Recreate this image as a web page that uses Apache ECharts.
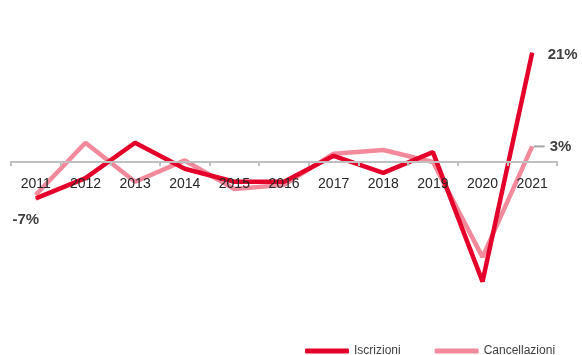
<!DOCTYPE html>
<html>
<head>
<meta charset="utf-8">
<script src="https://cdn.jsdelivr.net/npm/echarts@6/dist/echarts.min.js"></script>
<style>
  html, body { margin: 0; padding: 0; background: #fff; }
  #chart { width: 582px; height: 355px; }
</style>
</head>
<body>
<div id="chart"></div>
<script>
// Annual percentage change, 2011-2021
const years = ['2011', '2012', '2013', '2014', '2015', '2016', '2017', '2018', '2019', '2020', '2021'];
const iscrizioni = [-7, -3.1, 3.7, -1.3, -3.8, -3.8, 1.2, -2.1, 1.9, -23, 21];
const cancellazioni = [-6.3, 3.7, -3.8, 0.3, -5.2, -4.4, 1.6, 2.3, 0, -18.3, 3];

const RED = '#E4002B';
const PINK = '#F28A9B';
const TEXT = '#404040';

// Only the first/last points of a series carry a value label
function withLabels(values, labels) {
  return values.map((v, i) => labels[i] ? { value: v, label: labels[i] } : v);
}

const labelBold = { fontFamily: 'Liberation Sans', fontSize: 15, fontWeight: 'bold', color: TEXT };

const iscrizioniData = withLabels(iscrizioni, {
  0: Object.assign({ show: true, position: 'bottom', distance: 13, offset: [-10, 0],
    formatter: p => p.value + '%' }, labelBold),
  10: Object.assign({ show: true, position: 'right', distance: 15, offset: [0, 2],
    formatter: p => p.value + '%' }, labelBold)
});

const cancellazioniData = withLabels(cancellazioni, {
  10: {
    show: true, position: 'right', distance: 1,
    formatter: p => '{ln|}{t|' + p.value + '%}',
    rich: {
      ln: { width: 11, height: 2, backgroundColor: '#A6A6A6' },
      t: Object.assign({ padding: [0, 0, 0, 5] }, labelBold)
    }
  }
});

const chart = echarts.init(document.getElementById('chart'), null, { renderer: 'canvas' });
chart.setOption({
  animation: false,
  grid: { left: 11, right: 25, top: 32, bottom: 37 },
  legend: {
    left: 305, top: 345, padding: 0,
    itemWidth: 44, itemHeight: 5, itemGap: 34,
    icon: 'roundRect',
    textStyle: { fontFamily: 'Liberation Sans', fontSize: 12, color: TEXT },
    data: ['Iscrizioni', 'Cancellazioni']
  },
  xAxis: {
    type: 'category',
    data: years,
    boundaryGap: true,
    z: 10,
    // the category axis sits on the zero line of the value scale
    offset: -156,
    axisLine: { onZero: false, lineStyle: { color: '#BFBFBF', width: 2 } },
    axisTick: { show: true, length: 4, lineStyle: { color: '#BFBFBF', width: 2 } },
    axisLabel: { margin: 15, fontFamily: 'Liberation Sans', fontSize: 14, color: '#262626' },
    splitLine: { show: false }
  },
  yAxis: {
    type: 'value',
    min: -30, max: 25,
    show: false,
    splitLine: { show: false }
  },
  series: [
    {
      name: 'Cancellazioni',
      type: 'line',
      data: cancellazioniData,
      symbol: 'circle', symbolSize: 1,
      itemStyle: { color: PINK },
      lineStyle: { color: PINK, width: 4.5 },
      z: 2
    },
    {
      name: 'Iscrizioni',
      type: 'line',
      data: iscrizioniData,
      symbol: 'circle', symbolSize: 1,
      itemStyle: { color: RED },
      lineStyle: { color: RED, width: 4.5 },
      z: 3
    }
  ]
});
</script>
</body>
</html>
